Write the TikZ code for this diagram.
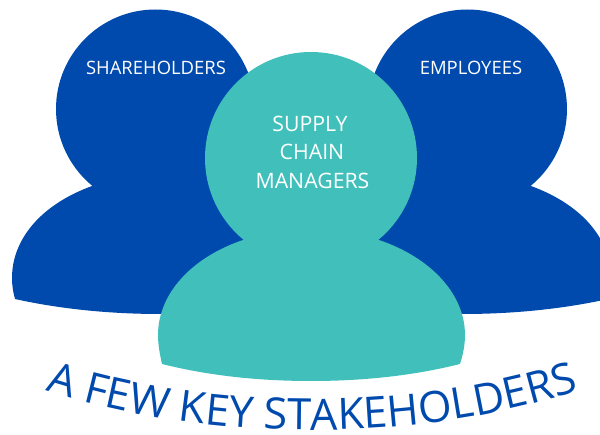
\documentclass[tikz,border=0pt]{standalone}
\usepackage{fontspec}
\setmainfont{Open Sans}
\usetikzlibrary{decorations.text}
\definecolor{deepblue}{HTML}{004AAD}
\definecolor{tealfig}{HTML}{41C0BB}
\tikzset{
  bluefig/.style={fill=deepblue,draw=none},
  tealshape/.style={fill=tealfig,draw=none},
  lab/.style={text=white,font=\fontsize{10.5pt}{12pt}\selectfont,inner sep=0pt,anchor=center},
  biglab/.style={text=white,font=\fontsize{12.1pt}{14pt}\selectfont,inner sep=0pt,anchor=center}
}
\begin{document}
\begin{tikzpicture}[x=0.02cm,y=-0.02cm]
\useasboundingbox (0,0) rectangle (600,435);
\begin{scope}
\clip (0,0) rectangle (600,435);
% left person
\fill[bluefig] (155.5,109) circle[radius=99.5];
\fill[bluefig] (92,186) .. controls (40,205) and (12,240) .. (12,278)
  .. controls (12,285) and (13,292) .. (15,299)
  .. controls (60,309) and (110,314) .. (160,314) -- (311,314) -- (311,170) -- cycle;
% right person
\fill[bluefig] (467.5,109) circle[radius=99.5];
\fill[bluefig] (531,186) .. controls (583,205) and (611,240) .. (611,278)
  .. controls (611,285) and (610,292) .. (608,299)
  .. controls (563,309) and (513,314) .. (463,314) -- (311,314) -- (311,170) -- cycle;
% centre person
\fill[tealshape] (311,158) circle[radius=106];
\fill[tealshape] (243,240) .. controls (190,258) and (158,295) .. (158,335)
  .. controls (158,345) and (160,355) .. (162,364)
  .. controls (210,376) and (260,381) .. (311,381)
  .. controls (362,381) and (412,376) .. (460,364)
  .. controls (463,355) and (465,345) .. (465,335)
  .. controls (465,295) and (432,258) .. (379,240) -- (311,200) -- cycle;
\end{scope}
\node[lab] (share) at (156,68) {SHAREHOLDERS};
\node[lab] (emp) at (471,68) {EMPLOYEES};
\node[biglab] (sup) at (310,124) {SUPPLY};
\node[biglab] (chain) at (312,152) {CHAIN};
\node[biglab] (man) at (312.5,181) {MANAGERS};
% curved title
\path[decorate,decoration={text along path,text align=center,
  text={|\fontsize{24.6pt}{28pt}\selectfont\color{deepblue}|A FEW KEY STAKEHOLDERS}}]
  (37,388) .. controls (128,418) and (220,430) .. (312,430) .. controls (404,430) and (496,418) .. (587,388);
\end{tikzpicture}
\end{document}
